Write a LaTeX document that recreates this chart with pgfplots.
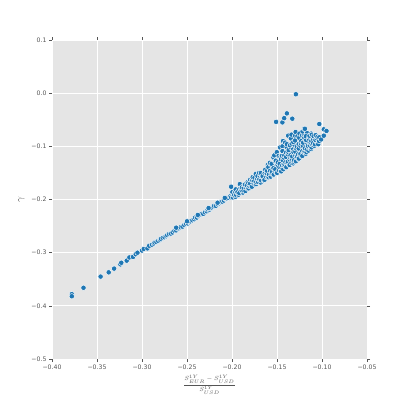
\documentclass[border=0pt]{standalone}
\usepackage{pgfplots}
\pgfplotsset{compat=1.18}
\usepackage{fontspec}
\setmainfont{DejaVu Sans}

\definecolor{bg}{HTML}{E5E5E5}
\definecolor{tickgray}{HTML}{555555}
\definecolor{dot}{HTML}{1F77B4}

\begin{document}
\begin{tikzpicture}
\useasboundingbox (0,0) rectangle (407bp,400bp);
\begin{axis}[
   at={(52bp,41bp)}, anchor=south west,
   scale only axis,
   width=315bp, height=319bp,
   xmin=-0.40, xmax=-0.05,
   ymin=-0.5, ymax=0.1,
   xtick={-0.40,-0.35,-0.30,-0.25,-0.20,-0.15,-0.10,-0.05},
   xticklabels={−0.40,−0.35,−0.30,−0.25,−0.20,−0.15,−0.10,−0.05},
   ytick={-0.5,-0.4,-0.3,-0.2,-0.1,0,0.1},
   yticklabels={−0.5,−0.4,−0.3,−0.2,−0.1,0.0,0.1},
   axis background/.style={fill=bg},
   axis line style={draw=none},
   grid=major,
   major grid style={white, line width=0.9bp},
   tick align=outside, tick pos=both,
   major tick length=3bp,
   tick style={tickgray, line width=0.5bp},
   ticklabel style={font=\fontsize{6.2}{7}\selectfont, text=tickgray},
   xticklabel style={yshift=1bp},
   yticklabel style={xshift=1bp},
   xlabel={$\displaystyle\frac{S^{1Y}_{EUR}-S^{1Y}_{USD}}{S^{1Y}_{USD}}$},
   xlabel style={font=\fontsize{6.3}{7}\selectfont, text=tickgray, yshift=1bp},
   ylabel={$\gamma$},
   ylabel style={font=\fontsize{10}{11}\selectfont, text=tickgray},
]
\addplot[only marks, mark=*, mark size=2.7bp,
  mark options={fill=dot, draw=white, line width=0.45bp}] coordinates {
  (-0.378,-0.378) (-0.378,-0.382) (-0.365,-0.366) (-0.346,-0.345)
  (-0.337,-0.337) (-0.331,-0.330) (-0.324,-0.322) (-0.323,-0.319)
  (-0.317,-0.315) (-0.314,-0.309) (-0.310,-0.308) (-0.307,-0.303)
  (-0.305,-0.300) (-0.300,-0.296) (-0.298,-0.293) (-0.294,-0.292)
  (-0.292,-0.287)
  (-0.289,-0.285) (-0.287,-0.283) (-0.286,-0.281) (-0.284,-0.280)
  (-0.282,-0.278) (-0.280,-0.276) (-0.279,-0.274) (-0.277,-0.272)
  (-0.275,-0.271) (-0.273,-0.269) (-0.272,-0.267) (-0.270,-0.265)
  (-0.268,-0.264) (-0.266,-0.262) (-0.264,-0.259) (-0.262,-0.258)
  (-0.260,-0.255) (-0.259,-0.254) (-0.257,-0.252) (-0.255,-0.251)
  (-0.253,-0.248) (-0.251,-0.246) (-0.249,-0.245) (-0.248,-0.242)
  (-0.246,-0.241) (-0.244,-0.239) (-0.242,-0.237) (-0.241,-0.234)
  (-0.239,-0.234) (-0.237,-0.231) (-0.235,-0.229) (-0.234,-0.227)
  (-0.232,-0.227) (-0.230,-0.224) (-0.228,-0.222) (-0.227,-0.219)
  (-0.225,-0.219) (-0.223,-0.216) (-0.221,-0.214) (-0.220,-0.212)
  (-0.218,-0.212) (-0.216,-0.209) (-0.214,-0.207) (-0.213,-0.205)
  (-0.211,-0.204) (-0.209,-0.202) (-0.207,-0.199) (-0.206,-0.198)
  (-0.204,-0.197) (-0.202,-0.194) (-0.201,-0.196)
  (-0.262,-0.253) (-0.250,-0.241) (-0.238,-0.229) (-0.226,-0.216)
  (-0.216,-0.206) (-0.208,-0.197)
  (-0.201,-0.176)
  (-0.1990,-0.196) (-0.1982,-0.191) (-0.1996,-0.186)
  (-0.1962,-0.195) (-0.1976,-0.191) (-0.1966,-0.186)
  (-0.1956,-0.191) (-0.1946,-0.186) (-0.1959,-0.181)
  (-0.1926,-0.191) (-0.1939,-0.186) (-0.1919,-0.181)
  (-0.1919,-0.188) (-0.1899,-0.181) (-0.1913,-0.171)
  (-0.1879,-0.187) (-0.1893,-0.183) (-0.1890,-0.177)
  (-0.1873,-0.183) (-0.1870,-0.178) (-0.1862,-0.172)
  (-0.1850,-0.184) (-0.1842,-0.178) (-0.1856,-0.172)
  (-0.1822,-0.180) (-0.1836,-0.173) (-0.1826,-0.167)
  (-0.1816,-0.179) (-0.1806,-0.175) (-0.1819,-0.169) (-0.1799,-0.163)
  (-0.1786,-0.175) (-0.1799,-0.170) (-0.1779,-0.164)
  (-0.1779,-0.176) (-0.1759,-0.170) (-0.1773,-0.164) (-0.1770,-0.158)
  (-0.1739,-0.172) (-0.1753,-0.165) (-0.1750,-0.159)
  (-0.1733,-0.171) (-0.1730,-0.167) (-0.1722,-0.161) (-0.1736,-0.152)
  (-0.1710,-0.167) (-0.1702,-0.162) (-0.1716,-0.156)
  (-0.1682,-0.168) (-0.1696,-0.162) (-0.1686,-0.156) (-0.1699,-0.150)
  (-0.1676,-0.164) (-0.1666,-0.157) (-0.1679,-0.150)
  (-0.1646,-0.164) (-0.1659,-0.156) (-0.1639,-0.150)
  (-0.1639,-0.163) (-0.1619,-0.158) (-0.1633,-0.148) (-0.1630,-0.144)
  (-0.1599,-0.159) (-0.1613,-0.151) (-0.1610,-0.146) (-0.1602,-0.135)
  (-0.1593,-0.158) (-0.1590,-0.153) (-0.1582,-0.143) (-0.1596,-0.139)
  (-0.1570,-0.157) (-0.1562,-0.151) (-0.1576,-0.146) (-0.1566,-0.135) (-0.1579,-0.131)
  (-0.1542,-0.154) (-0.1556,-0.148) (-0.1546,-0.138) (-0.1559,-0.133) (-0.1539,-0.121)
  (-0.1536,-0.153) (-0.1526,-0.146) (-0.1539,-0.141) (-0.1519,-0.129) (-0.1530,-0.117)
  (-0.1506,-0.150) (-0.1519,-0.143) (-0.1499,-0.132) (-0.1513,-0.127) (-0.1502,-0.111)
  (-0.1499,-0.150) (-0.1479,-0.145) (-0.1493,-0.135) (-0.1490,-0.130) (-0.1482,-0.118)
  (-0.1459,-0.147) (-0.1473,-0.139) (-0.1470,-0.133) (-0.1462,-0.120) (-0.1466,-0.102)
  (-0.1453,-0.147) (-0.1450,-0.140) (-0.1442,-0.136) (-0.1456,-0.124) (-0.1446,-0.118) (-0.1439,-0.100)
  (-0.1430,-0.143) (-0.1422,-0.136) (-0.1436,-0.126) (-0.1426,-0.121) (-0.1439,-0.109) (-0.1433,-0.090)
  (-0.1402,-0.140) (-0.1416,-0.134) (-0.1406,-0.130) (-0.1419,-0.117) (-0.1399,-0.112) (-0.1410,-0.093)
  (-0.1396,-0.139) (-0.1386,-0.131) (-0.1399,-0.120) (-0.1379,-0.115) (-0.1393,-0.101) (-0.1390,-0.096)
  (-0.1366,-0.135) (-0.1379,-0.129) (-0.1359,-0.125) (-0.1373,-0.111) (-0.1370,-0.107) (-0.1376,-0.080)
  (-0.1359,-0.135) (-0.1339,-0.131) (-0.1353,-0.121) (-0.1350,-0.117) (-0.1342,-0.103) (-0.1356,-0.098) (-0.1346,-0.085)
  (-0.1319,-0.132) (-0.1333,-0.124) (-0.1330,-0.119) (-0.1322,-0.106) (-0.1336,-0.095) (-0.1339,-0.078)
  (-0.1313,-0.129) (-0.1310,-0.126) (-0.1302,-0.116) (-0.1316,-0.111) (-0.1306,-0.097) (-0.1319,-0.092) (-0.1299,-0.080)
  (-0.1290,-0.128) (-0.1282,-0.121) (-0.1296,-0.110) (-0.1286,-0.104) (-0.1299,-0.089) (-0.1293,-0.073)
  (-0.1262,-0.124) (-0.1276,-0.119) (-0.1266,-0.115) (-0.1279,-0.101) (-0.1259,-0.096) (-0.1273,-0.081)
  (-0.1256,-0.123) (-0.1246,-0.116) (-0.1259,-0.104) (-0.1239,-0.099) (-0.1253,-0.084) (-0.1250,-0.076)
  (-0.1226,-0.119) (-0.1239,-0.114) (-0.1219,-0.109) (-0.1233,-0.095) (-0.1230,-0.090) (-0.1222,-0.079)
  (-0.1219,-0.118) (-0.1199,-0.111) (-0.1213,-0.099) (-0.1210,-0.093) (-0.1202,-0.078) (-0.1216,-0.072)
  (-0.1179,-0.114) (-0.1193,-0.109) (-0.1190,-0.104) (-0.1182,-0.089) (-0.1196,-0.084) (-0.1199,-0.067)
  (-0.1173,-0.111) (-0.1170,-0.106) (-0.1162,-0.094) (-0.1176,-0.088) (-0.1166,-0.075) (-0.1179,-0.081)
  (-0.1150,-0.108) (-0.1142,-0.103) (-0.1156,-0.099) (-0.1146,-0.086) (-0.1139,-0.082)
  (-0.1122,-0.105) (-0.1136,-0.098) (-0.1126,-0.093) (-0.1139,-0.080) (-0.1119,-0.076)
  (-0.1116,-0.102) (-0.1106,-0.097) (-0.1119,-0.090) (-0.1099,-0.087) (-0.1113,-0.078)
  (-0.1086,-0.099) (-0.1099,-0.094) (-0.1079,-0.084) (-0.1093,-0.081)
  (-0.1079,-0.096) (-0.1059,-0.091) (-0.1073,-0.088) (-0.1070,-0.079)
  (-0.1039,-0.093) (-0.1053,-0.086) (-0.1050,-0.082) (-0.1042,-0.096)
  (-0.1033,-0.090) (-0.1030,-0.083) (-0.1010,-0.087)
  (-0.129,-0.002) (-0.151,-0.054) (-0.144,-0.055) (-0.142,-0.047)
  (-0.139,-0.038) (-0.133,-0.048) (-0.103,-0.058) (-0.098,-0.068)
  (-0.095,-0.071) (-0.098,-0.080) (-0.119,-0.067)
};
\end{axis}
\end{tikzpicture}
\end{document}
